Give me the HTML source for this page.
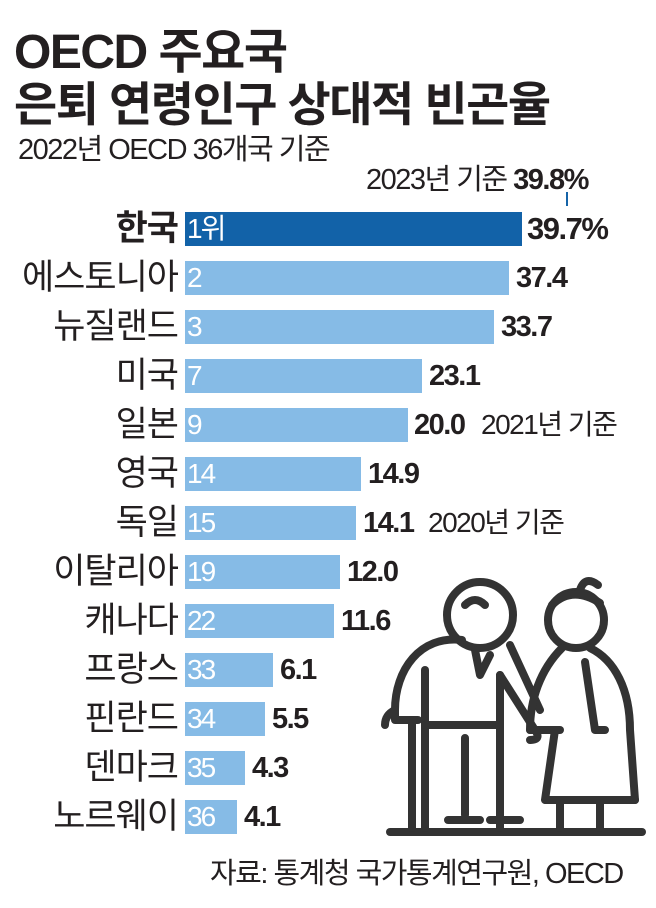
<!DOCTYPE html>
<html><head><meta charset="utf-8"><style>
body{margin:0;width:656px;height:908px;background:#fff;position:relative;overflow:hidden;font-family:"Liberation Sans","Noto Sans CJK KR",sans-serif;color:#231f20}
.t{position:absolute;white-space:nowrap}
.lab{position:absolute;right:478px;font-size:35px;line-height:34px;letter-spacing:-1px;white-space:nowrap}
.bar{position:absolute;left:185px;height:34px;background:#86bbe6}
.rk{position:absolute;left:187px;font-size:28px;color:#fff;line-height:34px;letter-spacing:-2px}
.v{position:absolute;font-size:29px;font-weight:bold;line-height:34px;letter-spacing:-1.5px}
.n{position:absolute;font-size:28px;line-height:34px;letter-spacing:-1.5px;white-space:nowrap}
</style></head><body>
<div class="t" style="left:14px;top:12px;font-size:48px;font-weight:bold;letter-spacing:-1.5px">OECD 주요국</div>
<div class="t" style="left:14px;top:66px;font-size:47px;font-weight:bold;letter-spacing:-1.5px">은퇴 연령인구 상대적 빈곤율</div>
<div class="t" style="left:18px;top:126px;font-size:29px;letter-spacing:-1.5px">2022년 OECD 36개국 기준</div>
<div class="t" style="left:366px;top:156px;font-size:29px;letter-spacing:-1.5px">2023년 기준 <b>39.8%</b></div>
<div style="position:absolute;left:566px;top:192px;width:2px;height:14px;background:#1664a8"></div>

<div class="lab" style="top:212px;font-weight:bold">한국</div>
<div class="bar" style="top:212px;width:337px;background:#1262a8"></div>
<div class="rk" style="top:212px">1위</div>
<div class="v" style="top:212px;left:527px;font-size:31px">39.7%</div>

<div class="lab" style="top:261px">에스토니아</div><div class="bar" style="top:261px;width:324px"></div><div class="rk" style="top:261px">2</div><div class="v" style="top:261px;left:516px">37.4</div>
<div class="lab" style="top:310px">뉴질랜드</div><div class="bar" style="top:310px;width:309px"></div><div class="rk" style="top:310px">3</div><div class="v" style="top:310px;left:501px">33.7</div>
<div class="lab" style="top:359px">미국</div><div class="bar" style="top:359px;width:237px"></div><div class="rk" style="top:359px">7</div><div class="v" style="top:359px;left:429px">23.1</div>
<div class="lab" style="top:408px">일본</div><div class="bar" style="top:408px;width:223px"></div><div class="rk" style="top:408px">9</div><div class="v" style="top:408px;left:414px">20.0</div><div class="n" style="top:408px;left:481px">2021년 기준</div>
<div class="lab" style="top:457px">영국</div><div class="bar" style="top:457px;width:176px"></div><div class="rk" style="top:457px">14</div><div class="v" style="top:457px;left:368px">14.9</div>
<div class="lab" style="top:506px">독일</div><div class="bar" style="top:506px;width:171px"></div><div class="rk" style="top:506px">15</div><div class="v" style="top:506px;left:363px">14.1</div><div class="n" style="top:506px;left:428px">2020년 기준</div>
<div class="lab" style="top:555px">이탈리아</div><div class="bar" style="top:555px;width:155px"></div><div class="rk" style="top:555px">19</div><div class="v" style="top:555px;left:347px">12.0</div>
<div class="lab" style="top:604px">캐나다</div><div class="bar" style="top:604px;width:149px"></div><div class="rk" style="top:604px">22</div><div class="v" style="top:604px;left:341px">11.6</div>
<div class="lab" style="top:653px">프랑스</div><div class="bar" style="top:653px;width:88px"></div><div class="rk" style="top:653px">33</div><div class="v" style="top:653px;left:280px">6.1</div>
<div class="lab" style="top:702px">핀란드</div><div class="bar" style="top:702px;width:80px"></div><div class="rk" style="top:702px">34</div><div class="v" style="top:702px;left:272px">5.5</div>
<div class="lab" style="top:751px">덴마크</div><div class="bar" style="top:751px;width:60px"></div><div class="rk" style="top:751px">35</div><div class="v" style="top:751px;left:252px">4.3</div>
<div class="lab" style="top:800px">노르웨이</div><div class="bar" style="top:800px;width:52px"></div><div class="rk" style="top:800px">36</div><div class="v" style="top:800px;left:244px">4.1</div>

<div class="t" style="left:210px;top:850px;font-size:29px;letter-spacing:-1.5px">자료: 통계청 국가통계연구원, OECD</div>

<svg style="position:absolute;left:380px;top:570px" width="276" height="280" viewBox="0 0 276 280" fill="none" stroke="#333" stroke-width="8" stroke-linecap="round" stroke-linejoin="round">
<line x1="10" y1="262" x2="262" y2="262"/>
<circle cx="100" cy="45" r="33"/>
<path d="M85 35 q10 -10 20 0"/>
<path d="M82 70 C40 65 15 100 15 140 L15 150 L38 150"/>
<path d="M45 100 L45 258"/>
<path d="M15 140 q-10 5 -10 15"/>
<path d="M32 150 L32 258"/>
<path d="M45 155 L120 155"/>
<path d="M120 105 L120 258 M85 168 L85 245 M68 250 L100 250 M110 250 L140 250"/>
<path d="M95 80 L100 105 L110 85"/>
<path d="M120 105 L155 160 Q162 170 150 170"/>
<path d="M130 75 L160 140"/>
<circle cx="196" cy="50" r="28"/>
<path d="M172 35 q20 -20 48 -2 M200 20 q5 -15 18 -5"/>
<path d="M182 78 C160 100 150 130 150 160 M210 78 C235 90 250 120 250 160 L255 230"/>
<path d="M205 92 L215 160 L225 160"/>
<path d="M175 160 L165 230 L255 230 M180 230 L180 258 M220 230 L220 258"/>
<path d="M150 160 L180 160"/>
</svg>
</body></html>
